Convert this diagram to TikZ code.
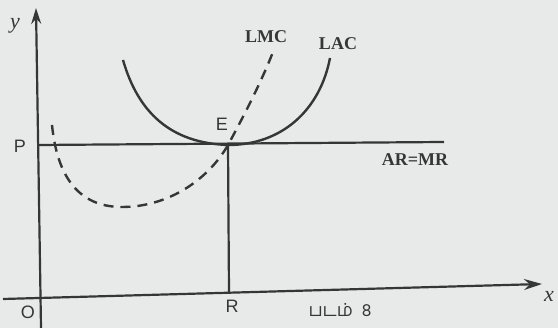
\documentclass[tikz,border=0pt]{standalone}
\usepackage{fontspec}
\setmainfont{Liberation Serif}
\newfontfamily\tamilfont[Script=Tamil]{Hind Madurai}
\newfontfamily\handfont{Liberation Sans}
\usetikzlibrary{arrows.meta}
\definecolor{ink}{HTML}{363636}
\definecolor{paper}{HTML}{E8EAEA}
\tikzset{
  axis/.style={draw=ink, line width=2.2pt},
  curve/.style={draw=ink, line width=2.4pt},
  dcurve/.style={draw=ink, line width=2.4pt, dash pattern=on 10pt off 7pt},
  hand/.style={text=ink, font=\handfont\fontsize{18}{20}\selectfont},
  ital/.style={text=ink, font=\itshape\fontsize{22}{24}\selectfont},
  lab/.style={text=ink, font=\bfseries\fontsize{18}{20}\selectfont},
}
\begin{document}
\begin{tikzpicture}[x=1pt,y=-1pt]
\fill[paper] (0,0) rectangle (558,328);
\useasboundingbox (0,0) rectangle (558,328);
% coordinates
\coordinate (ybot) at (41,328);
\coordinate (ytip) at (36,8);
\coordinate (xstart) at (3,299);
\coordinate (xtip) at (542,284);
\coordinate (Pl) at (39,145);
\coordinate (Pr) at (444,142);
\coordinate (E) at (228,145);
\coordinate (R) at (229,293);
% axes
\draw[axis, -{Stealth[length=16pt,width=10pt]}] (ybot) -- (ytip);
\draw[axis, -{Stealth[length=18pt,width=11pt]}] (xstart) -- (xtip);
% price line and vertical
\draw[axis] (Pl) -- (Pr);
\draw[axis] (E) -- (R);
% LAC
\draw[curve] (123,60) .. controls (138,112) and (170,143) .. (E)
  .. controls (282,145) and (320,110) .. (330,58);
% LMC
\draw[dcurve] (52,125) .. controls (58,185) and (85,207) .. (122,207)
  .. controls (168,207) and (208,180) .. (E)
  .. controls (246,112) and (262,80) .. (273,52);
% labels
\node[ital] (ly) at (15,26) {y};
\node[hand] (lP) at (20,146) {P};
\node[hand] (lO) at (28,312) {O};
\node[hand] (lR) at (232,306) {R};
\node[ital] (lx) at (549,296) {x};
\node[hand] (lE) at (222,124) {E};
\node[lab] (lLMC) at (266,37) {LMC};
\node[lab] (lLAC) at (338,44) {LAC};
\node[lab] (lAR) at (415,160) {AR=MR};
\node[text=ink, font=\tamilfont\fontsize{18}{20}\selectfont] (lfig) at (340,310) {படம்\ \ 8};
\end{tikzpicture}
\end{document}
